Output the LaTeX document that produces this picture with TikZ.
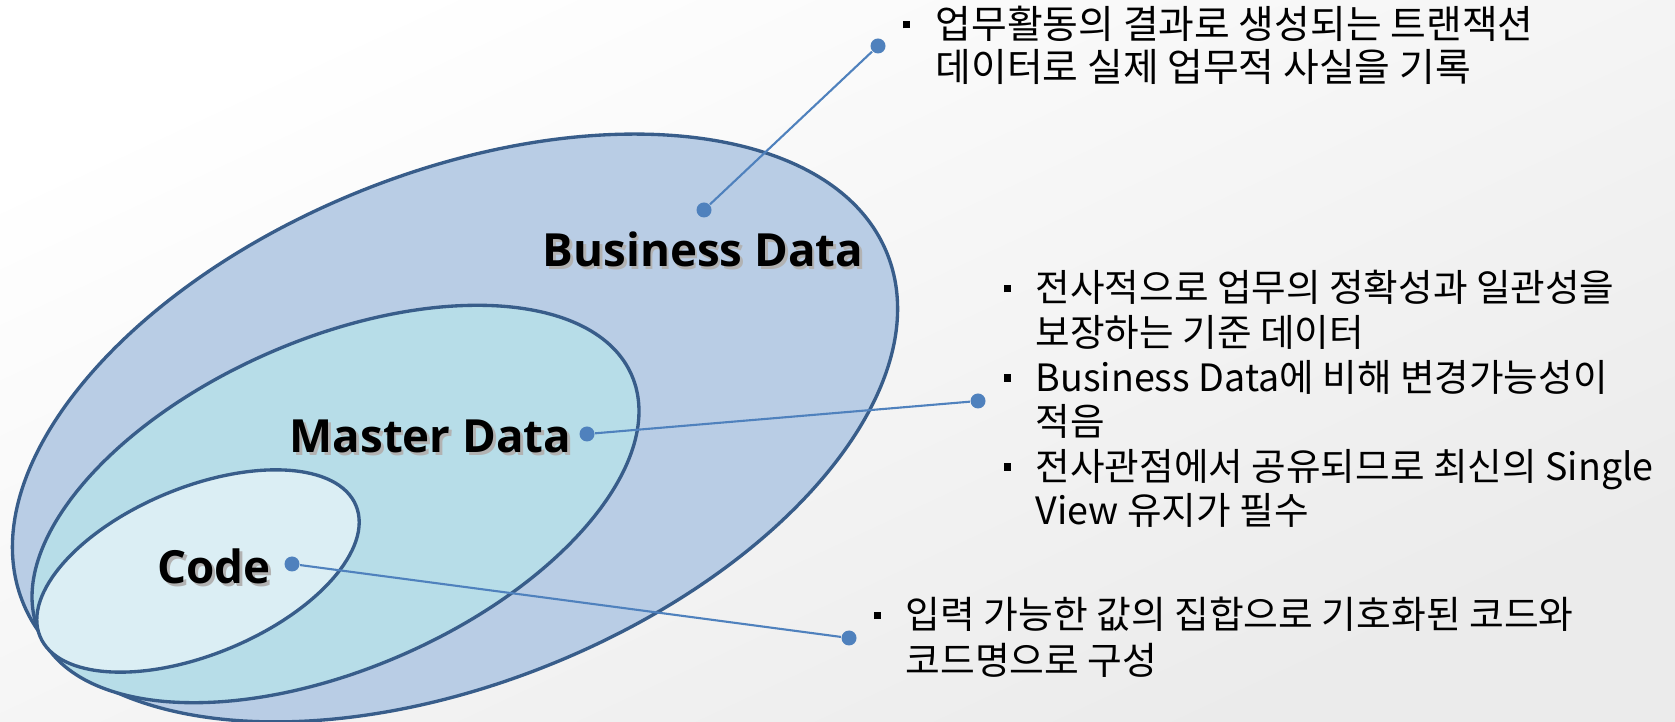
\documentclass[tikz,border=0pt]{standalone}
\usepackage{fontspec}
\setmainfont{Noto Sans CJK KR}
\newfontfamily\labfont{Open Sans}
\usepackage{xcolor}
\usetikzlibrary{positioning}
\usetikzlibrary{shapes.geometric}
\definecolor{rimblue}{RGB}{56,93,138}
\definecolor{busfill}{RGB}{185,205,229}
\definecolor{masfill}{RGB}{183,221,232}
\definecolor{codfill}{RGB}{219,238,244}
\definecolor{tackblue}{RGB}{79,129,189}
\tikzstyle{ring} = [ellipse, draw=rimblue, line width=0.95pt, inner sep=0pt, outer sep=0pt]
\tikzstyle{tack} = [circle, fill=tackblue, inner sep=0pt, minimum size=0.15cm]
\tikzstyle{lead} = [draw=tackblue, line width=0.6pt]
\tikzstyle{tag} = [font=\labfont\bfseries\fontsize{13}{15}\selectfont, inner sep=0pt, anchor=base]
\tikzstyle{note} = [align=left, inner sep=0pt, anchor=base west]
\def\bul{\llap{\rule[0.25em]{0.2em}{0.2em}\hspace{0.65em}}}
\def\shad(#1){\rlap{\hspace{0.06em}\raisebox{-0.06em}{\textcolor{black!30}{#1}}}#1}

\begin{document}
\begin{tikzpicture}
      \useasboundingbox (0,0) rectangle (16.75,7.22);
      \shade[top color=white, bottom color=black!8, shading angle=25] (0,0) rectangle (16.75,7.22);
      %%%%%%%%%%%%%%%%%%%%%%%%%%%%%%%%%%%%%%%
      \node (bus) at (4.55,2.94) [ring, fill=busfill, minimum width=9.32cm, minimum height=5.1cm, rotate=22] {};
      \node (mas) at (3.355,2.18) [ring, fill=masfill, minimum width=6.46cm, minimum height=3.3cm, rotate=23.5] {};
      \node (cod) at (1.98,1.51) [ring, fill=codfill, minimum width=3.42cm, minimum height=1.67cm, rotate=22.5] {};
      %%%%%%%%%%%%%%%%%%%%%%%%%%%%%%%%%%%%%%%
      \node (bustag) at (7.03,4.55) [tag] {\shad(Business Data)};
      \node (mastag) at (4.305,2.69) [tag] {\shad(Master Data)};
      \node (codtag) at (2.14,1.38) [tag] {\shad(Code)};
      %%%%%%%%%%%%%%%%%%%%%%%%%%%%%%%%%%%%%%%
      \node (b1) at (7.04,5.12) [tack] {};
      \node (b2) at (8.78,6.76) [tack] {};
      \node (m1) at (5.87,2.88) [tack] {};
      \node (m2) at (9.78,3.21) [tack] {};
      \node (c1) at (2.92,1.58) [tack] {};
      \node (c2) at (8.49,0.84) [tack] {};
      \draw [lead] (b1)--(b2);
      \draw [lead] (m1)--(m2);
      \draw [lead] (c1)--(c2);
      %%%%%%%%%%%%%%%%%%%%%%%%%%%%%%%%%%%%%%%
      % base of a note = baseline of its last line
      \node (busnote) at (9.35,6.40) [note, font=\fontsize{11.05}{12.5}\selectfont] {\bul 업무활동의 결과로 생성되는 트랜잭션\\ 데이터로 실제 업무적 사실을 기록};
      \node (masnote) at (10.35,1.97) [note, font=\fontsize{10.7}{12.7}\selectfont] {\bul 전사적으로 업무의 정확성과 일관성을\\ 보장하는 기준 데이터\\ \bul Business Data에 비해 변경가능성이\\ 적음\\ \bul 전사관점에서 공유되므로 최신의 Single\\ View 유지가 필수};
      \node (codnote) at (9.05,0.48) [note, font=\fontsize{10.75}{12.9}\selectfont] {\bul 입력 가능한 값의 집합으로 기호화된 코드와\\ 코드명으로 구성};
\end{tikzpicture}
\end{document}
